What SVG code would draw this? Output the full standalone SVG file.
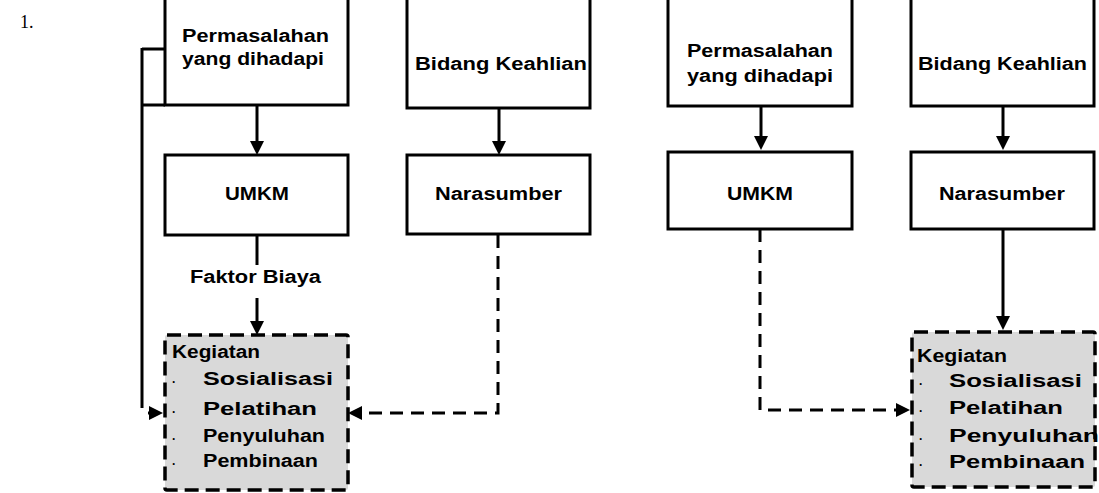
<svg xmlns="http://www.w3.org/2000/svg" width="1099" height="493" viewBox="0 0 1099 493">
<style>
.box{fill:#fff;stroke:#000;stroke-width:3}
.dbox{fill:#d9d9d9;stroke:#000;stroke-width:3.5;stroke-dasharray:14 7}
.ln{fill:none;stroke:#000;stroke-width:3}
.dl{fill:none;stroke:#000;stroke-width:3;stroke-dasharray:13 8}
.t{font-family:"Liberation Sans",Arial,sans-serif;font-weight:bold;font-size:18px;fill:#000}
.b{font-family:"Liberation Sans",Arial,sans-serif;font-weight:bold;font-size:12px;fill:#000}
</style>
<defs>
<marker id="ah" markerUnits="userSpaceOnUse" markerWidth="16" markerHeight="16" viewBox="0 -8 16 16" refX="0" refY="0" orient="auto" overflow="visible">
<path d="M0,-7 L14,0 L0,7 z" fill="#000"/>
</marker>
</defs>
<text x="20" y="28" font-family="'Liberation Serif','Times New Roman',serif" font-size="18" fill="#000">1.</text>

<g id="connectors">
<path class="ln" d="M142,49 H165 M142,105 H165 M142,48 V408"/>
<path class="ln" d="M148,413 H149" marker-end="url(#ah)"/>
<path class="ln" d="M257,105 V141" marker-end="url(#ah)"/>
<path class="ln" d="M499,108 V141" marker-end="url(#ah)"/>
<path class="ln" d="M257,235 V265"/>
<path class="ln" d="M257,298 V321" marker-end="url(#ah)"/>
<path class="dl" d="M498,235 V413 H362" marker-end="url(#ah)"/>
<path class="ln" d="M761,106 V136" marker-end="url(#ah)"/>
<path class="ln" d="M1003,106 V136" marker-end="url(#ah)"/>
<path class="ln" d="M1003,229 V316" marker-end="url(#ah)"/>
<path class="dl" d="M760,229 V410 H896" marker-end="url(#ah)"/>
<text class="t" x="190" y="283" textLength="131" lengthAdjust="spacingAndGlyphs">Faktor Biaya</text>
</g>

<g id="perm1">
<rect class="box" x="165" y="-5" width="183" height="110"/>
<text class="t" x="182" y="42" textLength="147" lengthAdjust="spacingAndGlyphs">Permasalahan</text>
<text class="t" x="182" y="65" textLength="142" lengthAdjust="spacingAndGlyphs">yang dihadapi</text>
</g>
<g id="bidang1">
<rect class="box" x="407" y="-5" width="183" height="113"/>
<text class="t" x="415" y="70" textLength="172" lengthAdjust="spacingAndGlyphs">Bidang Keahlian</text>
</g>
<g id="umkm1">
<rect class="box" x="165" y="155" width="183" height="80"/>
<text class="t" x="225" y="200" textLength="64" lengthAdjust="spacingAndGlyphs">UMKM</text>
</g>
<g id="nara1">
<rect class="box" x="407" y="155" width="183" height="79"/>
<text class="t" x="435" y="200" textLength="127" lengthAdjust="spacingAndGlyphs">Narasumber</text>
</g>
<g id="keg1">
<rect class="dbox" x="165" y="335" width="183" height="155" rx="2"/>
<text class="t" x="172" y="358" textLength="88" lengthAdjust="spacingAndGlyphs">Kegiatan</text>
<text class="b" x="172" y="386">·</text>
<text class="b" x="172" y="416">·</text>
<text class="b" x="172" y="443">·</text>
<text class="b" x="172" y="468">·</text>
<text class="t" x="203" y="385" font-size="20" textLength="130" lengthAdjust="spacingAndGlyphs">Sosialisasi</text>
<text class="t" x="203" y="415" font-size="20" textLength="114" lengthAdjust="spacingAndGlyphs">Pelatihan</text>
<text class="t" x="203" y="442" textLength="122" lengthAdjust="spacingAndGlyphs">Penyuluhan</text>
<text class="t" x="203" y="467" textLength="115" lengthAdjust="spacingAndGlyphs">Pembinaan</text>
</g>

<g id="perm2">
<rect class="box" x="668" y="-5" width="184" height="111"/>
<text class="t" x="687" y="57" textLength="146" lengthAdjust="spacingAndGlyphs">Permasalahan</text>
<text class="t" x="687" y="82" textLength="146" lengthAdjust="spacingAndGlyphs">yang dihadapi</text>
</g>
<g id="bidang2">
<rect class="box" x="911" y="-5" width="183" height="111"/>
<text class="t" x="918" y="70" textLength="169" lengthAdjust="spacingAndGlyphs">Bidang Keahlian</text>
</g>
<g id="umkm2">
<rect class="box" x="668" y="152" width="184" height="77"/>
<text class="t" x="727" y="200" textLength="66" lengthAdjust="spacingAndGlyphs">UMKM</text>
</g>
<g id="nara2">
<rect class="box" x="911" y="152" width="183" height="77"/>
<text class="t" x="939" y="200" textLength="126" lengthAdjust="spacingAndGlyphs">Narasumber</text>
</g>
<g id="keg2">
<rect class="dbox" x="912" y="332" width="183" height="155" rx="2"/>
<text class="t" x="917" y="362" textLength="90" lengthAdjust="spacingAndGlyphs">Kegiatan</text>
<text class="b" x="919" y="388">·</text>
<text class="b" x="919" y="415">·</text>
<text class="b" x="919" y="443">·</text>
<text class="b" x="919" y="469">·</text>
<text class="t" x="949" y="387" textLength="133" lengthAdjust="spacingAndGlyphs">Sosialisasi</text>
<text class="t" x="949" y="414" textLength="114" lengthAdjust="spacingAndGlyphs">Pelatihan</text>
<text class="t" x="949" y="442" textLength="150" lengthAdjust="spacingAndGlyphs">Penyuluhan</text>
<text class="t" x="949" y="468" textLength="136" lengthAdjust="spacingAndGlyphs">Pembinaan</text>
</g>
</svg>
